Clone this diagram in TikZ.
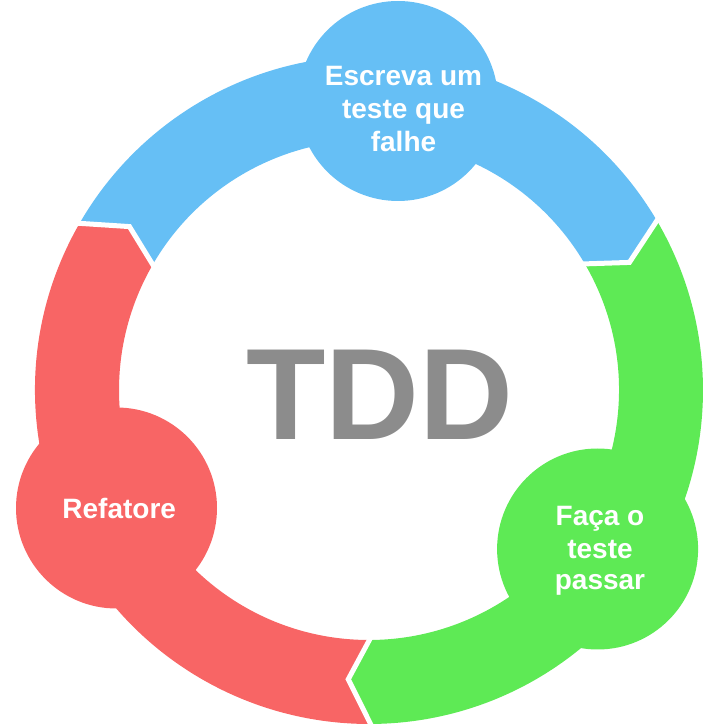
\documentclass[tikz,border=0pt]{standalone}
\usepackage{fontspec}
\setmainfont{Liberation Sans}
\definecolor{tddblue}{RGB}{102,191,245}
\definecolor{tddgreen}{RGB}{94,234,85}
\definecolor{tddred}{RGB}{248,101,101}
\definecolor{tddgray}{RGB}{140,140,140}
\begin{document}
\begin{tikzpicture}[x=1pt,y=1pt,
  lbl/.style={text=white,font=\fontsize{28}{33}\selectfont\bfseries,anchor=base,inner sep=0pt},
  gapline/.style={draw=white,line width=5pt,line join=miter}]
\useasboundingbox (0,0) rectangle (724,724);
\def\Ri{250}\def\Ro{334}\def\Rm{290}\def\dl{4.7}
\coordinate (C) at (369,334);
\begin{scope}[shift={(C)}]
  % blue segment: 150.4 -> 30.8
  \fill[tddblue] (150.4:\Ro pt) -- (150.4-\dl:\Rm pt) -- (150.4:\Ri pt)
     arc[start angle=150.4,end angle=30.8,radius=\Ri pt]
     -- (30.8-\dl:\Rm pt) -- (30.8:\Ro pt)
     arc[start angle=30.8,end angle=150.4,radius=\Ro pt] -- cycle;
  % green segment: 30.8 -> -89.4
  \fill[tddgreen] (30.8:\Ro pt) -- (30.8-\dl:\Rm pt) -- (30.8:\Ri pt)
     arc[start angle=30.8,end angle=-89.4,radius=\Ri pt]
     -- (-89.4-\dl:\Rm pt) -- (-89.4:\Ro pt)
     arc[start angle=-89.4,end angle=30.8,radius=\Ro pt] -- cycle;
  % red segment: -89.4 -> -209.6
  \fill[tddred] (-89.4:\Ro pt) -- (-89.4-\dl:\Rm pt) -- (-89.4:\Ri pt)
     arc[start angle=-89.4,end angle=-209.6,radius=\Ri pt]
     -- (-209.6-\dl:\Rm pt) -- (-209.6:\Ro pt)
     arc[start angle=-209.6,end angle=-89.4,radius=\Ro pt] -- cycle;
  % white gaps
  \draw[gapline] (30.8:\Ro pt+4pt) -- (30.8-\dl:\Rm pt) -- (30.8:\Ri pt-4pt);
  \draw[gapline] (150.4:\Ro pt+4pt) -- (150.4-\dl:\Rm pt) -- (150.4:\Ri pt-4pt);
  \draw[gapline] (-89.4:\Ro pt+4pt) -- (-89.4-\dl:\Rm pt) -- (-89.4:\Ri pt-4pt);
\end{scope}
% circles
\fill[tddblue] (398,623) circle[radius=100];
\fill[tddgreen] (597.6,175) circle[radius=100.5];
\fill[tddred] (116.5,216) circle[radius=100.5];
% labels
\node[lbl] (b1) at (403.5,638) {Escreva um};
\node[lbl] (b2) at (403.5,605.3) {teste que};
\node[lbl] (b3) at (403.5,572.3) {falhe};
\node[lbl] (g1) at (600,198) {Faça o};
\node[lbl] (g2) at (600,165.7) {teste};
\node[lbl] (g3) at (600,134) {passar};
\node[lbl] (r1) at (119.2,205.7) {Refatore};
\node[text=tddgray,font=\fontsize{130}{130}\selectfont\bfseries,anchor=base,inner sep=0pt] (tdd) at (380,284) {TDD};
\end{tikzpicture}
\end{document}
